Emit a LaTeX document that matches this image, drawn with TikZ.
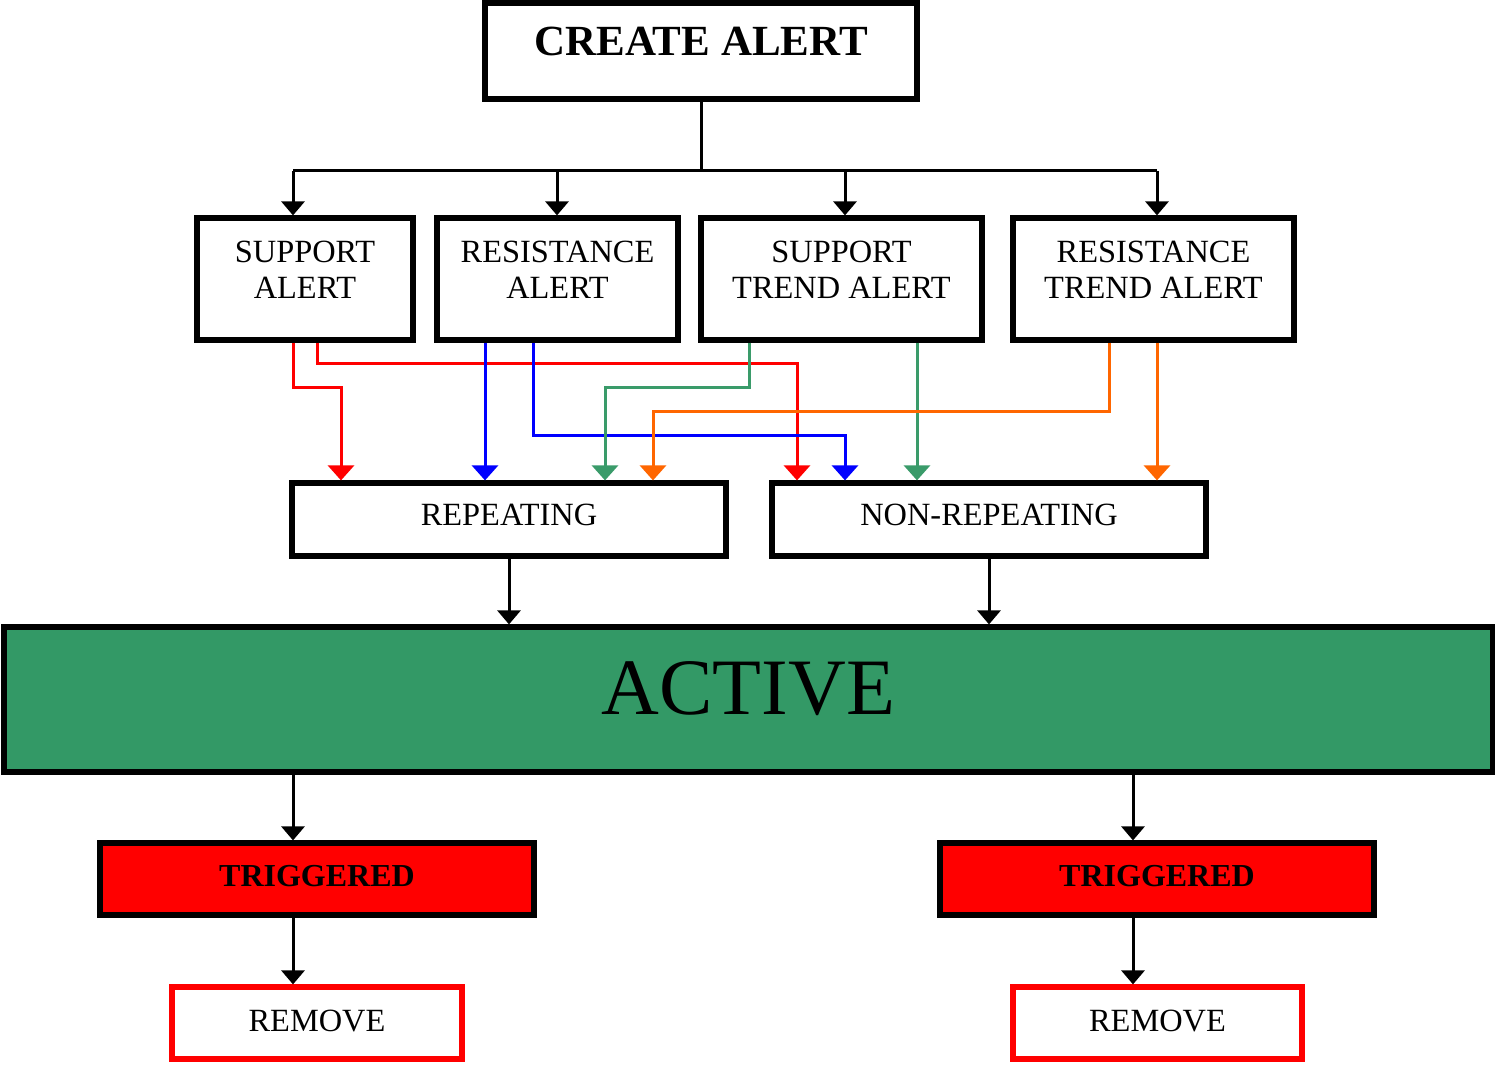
\documentclass[tikz,border=0pt]{standalone}
\usepackage{fontspec}
\setmainfont{Liberation Serif}
\usetikzlibrary{arrows.meta}
\definecolor{actgreen}{HTML}{339966}
\definecolor{lngreen}{HTML}{3A9B6A}
\definecolor{lnorange}{HTML}{FF6600}
\newcommand{\txt}[2]{\raisebox{#1}[0pt][0pt]{\begin{tabular}[t]{@{}c@{}}#2\end{tabular}}}
\begin{document}
\begin{tikzpicture}[x=0.5pt,y=-0.5pt,
  box/.style={draw=black,line width=2.6pt,inner sep=0pt,font=\fontsize{16.2}{18.3}\selectfont},
  blk/.style={draw=black,line width=1.5pt,-{Triangle[width=11.5pt,length=7pt]}},
  plain/.style={draw=black,line width=1.5pt},
  cl/.style={line width=1.5pt,-{Triangle[width=13pt,length=7.5pt]}},
]
\useasboundingbox (0,0) rectangle (1495,1065);
% nodes
\node[box,minimum width=216pt,minimum height=48pt,font=\fontsize{21.5}{24}\selectfont\bfseries] (create) at (701,51) {\txt{-2.1pt}{CREATE ALERT}};
\node[box,minimum width=108pt,minimum height=61pt] (sa) at (305,279) {\txt{8.4pt}{SUPPORT\\ALERT}};
\node[box,minimum width=120.5pt,minimum height=61pt] (ra) at (557.5,279) {\txt{8.4pt}{RESISTANCE\\ALERT}};
\node[box,minimum width=140.5pt,minimum height=61pt] (sta) at (841.5,279) {\txt{8.4pt}{SUPPORT\\TREND ALERT}};
\node[box,minimum width=140.5pt,minimum height=61pt] (rta) at (1153.5,279) {\txt{8.4pt}{RESISTANCE\\TREND ALERT}};
\node[box,minimum width=217pt,minimum height=36.5pt] (rep) at (509,519.5) {\txt{-3pt}{REPEATING}};
\node[box,minimum width=217pt,minimum height=36.5pt] (nrep) at (989,519.5) {\txt{-3pt}{NON-REPEATING}};
\node[box,fill=actgreen,minimum width=744.5pt,minimum height=72.5pt,font=\fontsize{40}{44}\selectfont] (active) at (748.5,699.5) {\txt{-7.4pt}{ACTIVE}};
\node[box,fill=red,minimum width=217pt,minimum height=36pt,font=\fontsize{16}{18}\selectfont\bfseries] (trig1) at (317,879) {\txt{-3.8pt}{TRIGGERED}};
\node[box,fill=red,minimum width=217pt,minimum height=36pt,font=\fontsize{16}{18}\selectfont\bfseries] (trig2) at (1157,879) {\txt{-3.8pt}{TRIGGERED}};
\node[box,draw=red,minimum width=145pt,minimum height=36pt] (rem1) at (317,1023) {\txt{-4pt}{REMOVE}};
\node[box,draw=red,minimum width=144.5pt,minimum height=36pt] (rem2) at (1157.5,1023) {\txt{-4pt}{REMOVE}};
% tree from create
\coordinate (j) at (701,171);
\draw[plain] (create.south) -- (j);
\draw[plain] (293,171) -- (1157,171);
\draw[blk] (293,171) -- (293,0 |- sa.north);
\draw[blk] (557,171) -- (557,0 |- ra.north);
\draw[blk] (845,171) -- (845,0 |- sta.north);
\draw[blk] (1157,171) -- (1157,0 |- rta.north);
% coloured connectors
\draw[cl,red] (293,0 |- sa.south) |- (341,387) -- (341,0 |- rep.north);
\draw[cl,red] (317,0 |- sa.south) |- (797,363) -- (797,0 |- nrep.north);
\draw[cl,blue] (485,0 |- ra.south) -- (485,0 |- rep.north);
\draw[cl,blue] (533,0 |- ra.south) |- (845,435) -- (845,0 |- nrep.north);
\draw[cl,lngreen] (749,0 |- sta.south) |- (605,387) -- (605,0 |- rep.north);
\draw[cl,lngreen] (917,0 |- sta.south) -- (917,0 |- nrep.north);
\draw[cl,lnorange] (1109,0 |- rta.south) |- (653,411) -- (653,0 |- rep.north);
\draw[cl,lnorange] (1157,0 |- rta.south) -- (1157,0 |- nrep.north);
% to active
\draw[blk] (rep.south) -- (rep.south |- active.north);
\draw[blk] (nrep.south) -- (nrep.south |- active.north);
% from active
\draw[blk] (293,0 |- active.south) -- (293,0 |- trig1.north);
\draw[blk] (1133,0 |- active.south) -- (1133,0 |- trig2.north);
\draw[blk] (293,0 |- trig1.south) -- (293,0 |- rem1.north);
\draw[blk] (1133,0 |- trig2.south) -- (1133,0 |- rem2.north);
\end{tikzpicture}
\end{document}
